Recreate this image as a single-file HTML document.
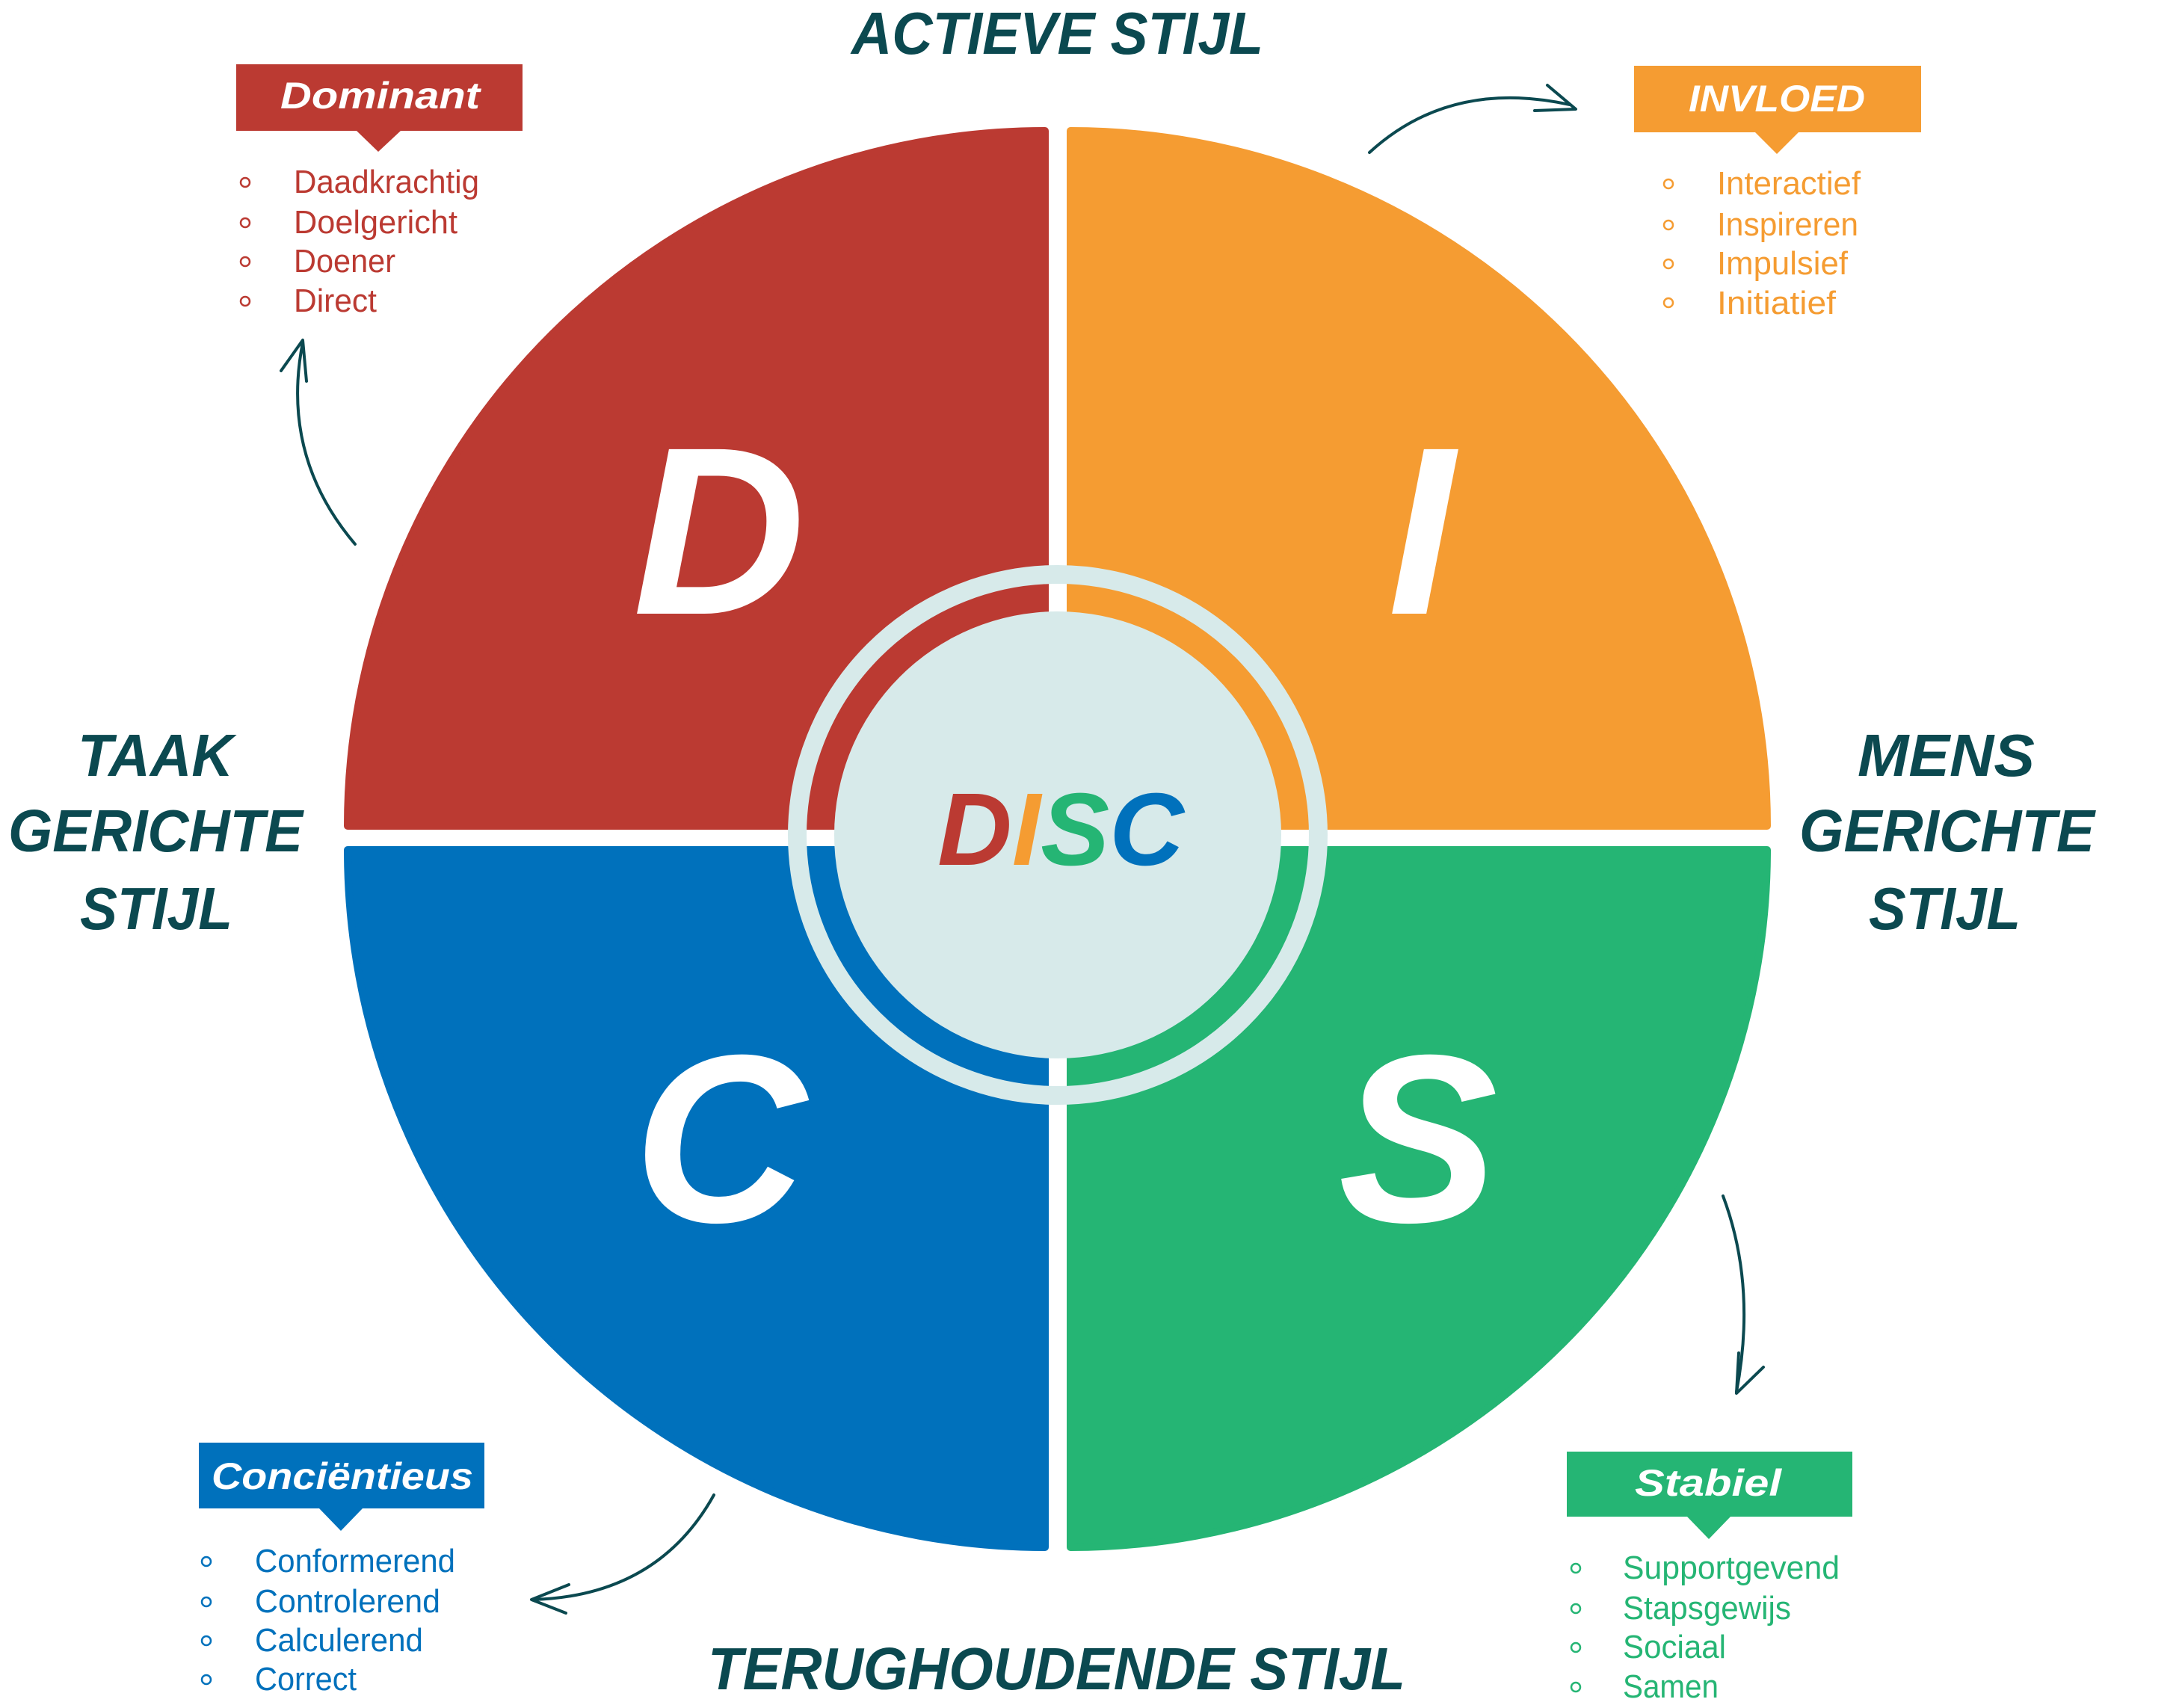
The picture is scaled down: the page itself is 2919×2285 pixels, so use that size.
<!DOCTYPE html>
<html><head><meta charset="utf-8"><style>
html,body{margin:0;padding:0;background:#fff;}
svg{display:block;}
.h{font-family:"Liberation Sans",sans-serif;font-weight:bold;font-style:italic;fill:#0b4950;font-size:80px;}
.bx{font-family:"Liberation Sans",sans-serif;font-weight:bold;font-style:italic;fill:#fff;font-size:50px;}
.li{font-family:"Liberation Sans",sans-serif;font-size:44px;}
.big{font-family:"Liberation Sans",sans-serif;font-weight:bold;font-style:italic;fill:#fff;font-size:320px;text-anchor:middle;}
</style></head><body>
<svg width="2919" height="2285" viewBox="0 0 2919 2285" xmlns="http://www.w3.org/2000/svg">
<!-- quadrants -->
<g stroke-linejoin="round" stroke-width="10">
<path d="M1398,175 L1398,1105 L465,1105 A933,930 0 0 1 1398,175 Z" fill="#bb3a32" stroke="#bb3a32"/>
<path d="M1432,175 A932,930 0 0 1 2364,1105 L1432,1105 Z" fill="#f59c32" stroke="#f59c32"/>
<path d="M1432,1137 L2364,1137 A932,933 0 0 1 1432,2070 Z" fill="#25b574" stroke="#25b574"/>
<path d="M1398,1137 L1398,2070 A933,933 0 0 1 465,1137 Z" fill="#0071bc" stroke="#0071bc"/>
</g>
<!-- center ring -->
<circle cx="1415" cy="1117" r="348.5" fill="none" stroke="#d7eaea" stroke-width="25"/>
<circle cx="1415" cy="1117" r="299" fill="#d7eaea"/>
<text x="1419" y="1157" font-family="Liberation Sans" font-weight="bold" font-style="italic" font-size="138" text-anchor="middle"><tspan fill="#bb3a32">D</tspan><tspan fill="#f59c32">I</tspan><tspan fill="#25b574">S</tspan><tspan fill="#0071bc">C</tspan></text>
<!-- big letters -->
<text class="big" x="962" y="821">D</text>
<text class="big" x="1901" y="821">I</text>
<text class="big" x="963" y="1634">C</text>
<text class="big" x="1897" y="1634">S</text>
<!-- headings -->
<text class="h" x="1139" y="72" textLength="551" lengthAdjust="spacingAndGlyphs">ACTIEVE STIJL</text>
<text class="h" x="947" y="2260" textLength="933" lengthAdjust="spacingAndGlyphs">TERUGHOUDENDE STIJL</text>
<text class="h" x="104" y="1038" textLength="208" lengthAdjust="spacingAndGlyphs">TAAK</text>
<text class="h" x="11" y="1139" textLength="394" lengthAdjust="spacingAndGlyphs">GERICHTE</text>
<text class="h" x="107" y="1243" textLength="204" lengthAdjust="spacingAndGlyphs">STIJL</text>
<text class="h" x="2485" y="1038" textLength="237" lengthAdjust="spacingAndGlyphs">MENS</text>
<text class="h" x="2407" y="1139" textLength="395" lengthAdjust="spacingAndGlyphs">GERICHTE</text>
<text class="h" x="2500" y="1243" textLength="203" lengthAdjust="spacingAndGlyphs">STIJL</text>
<!-- boxes -->
<path d="M316,86 H699 V175 H536 L506,203 L477,175 H316 Z" fill="#bb3a32"/>
<text class="bx" x="375" y="145" textLength="267" lengthAdjust="spacingAndGlyphs">Dominant</text>
<path d="M2186,88 H2570 V177 H2406 L2377,206 L2348,177 H2186 Z" fill="#f59c32"/>
<text class="bx" x="2259" y="149" textLength="236" lengthAdjust="spacingAndGlyphs">INVLOED</text>
<path d="M266,1930 H648 V2018 H485 L456,2048 L427,2018 H266 Z" fill="#0071bc"/>
<text class="bx" x="283" y="1992" textLength="350" lengthAdjust="spacingAndGlyphs">Conciëntieus</text>
<path d="M2096,1942 H2478 V2029 H2315 L2286,2059 L2257,2029 H2096 Z" fill="#25b574"/>
<text class="bx" x="2187" y="2001" textLength="196" lengthAdjust="spacingAndGlyphs">Stabiel</text>
<!-- lists -->
<g fill="none" stroke-width="2.5">
<g stroke="#bb3a32"><circle cx="328" cy="244" r="6"/><circle cx="328" cy="298" r="6"/><circle cx="328" cy="350" r="6"/><circle cx="328" cy="403" r="6"/></g>
<g stroke="#f59c32"><circle cx="2232" cy="246" r="6"/><circle cx="2232" cy="301" r="6"/><circle cx="2232" cy="353" r="6"/><circle cx="2232" cy="405" r="6"/></g>
<g stroke="#0071bc"><circle cx="276" cy="2089" r="6"/><circle cx="276" cy="2143" r="6"/><circle cx="276" cy="2195" r="6"/><circle cx="276" cy="2247" r="6"/></g>
<g stroke="#25b574"><circle cx="2108" cy="2098" r="6"/><circle cx="2108" cy="2152" r="6"/><circle cx="2108" cy="2204" r="6"/><circle cx="2108" cy="2257" r="6"/></g>
</g>
<g class="li" fill="#bb3a32">
<text x="393" y="258" textLength="248" lengthAdjust="spacingAndGlyphs">Daadkrachtig</text>
<text x="393" y="312" textLength="219" lengthAdjust="spacingAndGlyphs">Doelgericht</text>
<text x="393" y="364" textLength="136" lengthAdjust="spacingAndGlyphs">Doener</text>
<text x="393" y="417" textLength="111" lengthAdjust="spacingAndGlyphs">Direct</text>
</g>
<g class="li" fill="#f59c32">
<text x="2297" y="260" textLength="192" lengthAdjust="spacingAndGlyphs">Interactief</text>
<text x="2297" y="315" textLength="189" lengthAdjust="spacingAndGlyphs">Inspireren</text>
<text x="2297" y="367" textLength="175" lengthAdjust="spacingAndGlyphs">Impulsief</text>
<text x="2297" y="420" textLength="159" lengthAdjust="spacingAndGlyphs">Initiatief</text>
</g>
<g class="li" fill="#0071bc">
<text x="341" y="2103" textLength="268" lengthAdjust="spacingAndGlyphs">Conformerend</text>
<text x="341" y="2157" textLength="248" lengthAdjust="spacingAndGlyphs">Controlerend</text>
<text x="341" y="2209" textLength="225" lengthAdjust="spacingAndGlyphs">Calculerend</text>
<text x="341" y="2261" textLength="136" lengthAdjust="spacingAndGlyphs">Correct</text>
</g>
<g class="li" fill="#25b574">
<text x="2171" y="2112" textLength="290" lengthAdjust="spacingAndGlyphs">Supportgevend</text>
<text x="2171" y="2166" textLength="225" lengthAdjust="spacingAndGlyphs">Stapsgewijs</text>
<text x="2171" y="2218" textLength="138" lengthAdjust="spacingAndGlyphs">Sociaal</text>
<text x="2171" y="2271" textLength="128" lengthAdjust="spacingAndGlyphs">Samen</text>
</g>
<!-- arrows -->
<g fill="none" stroke="#0b4950" stroke-width="4" stroke-linecap="round" stroke-linejoin="round">
<path d="M1832,204 Q1940,105 2100,140"/>
<path d="M2070,114 L2108,146 L2053,148"/>
<path d="M475,728 Q375,610 405,458"/>
<path d="M376,496 L405,455 L410,510"/>
<path d="M2305,1600 Q2350,1720 2323,1862"/>
<path d="M2326,1810 L2323,1864 L2359,1829"/>
<path d="M955,2000 Q880,2135 713,2140"/>
<path d="M761,2120 L711,2140 L757,2158"/>
</g>
</svg>
</body></html>
